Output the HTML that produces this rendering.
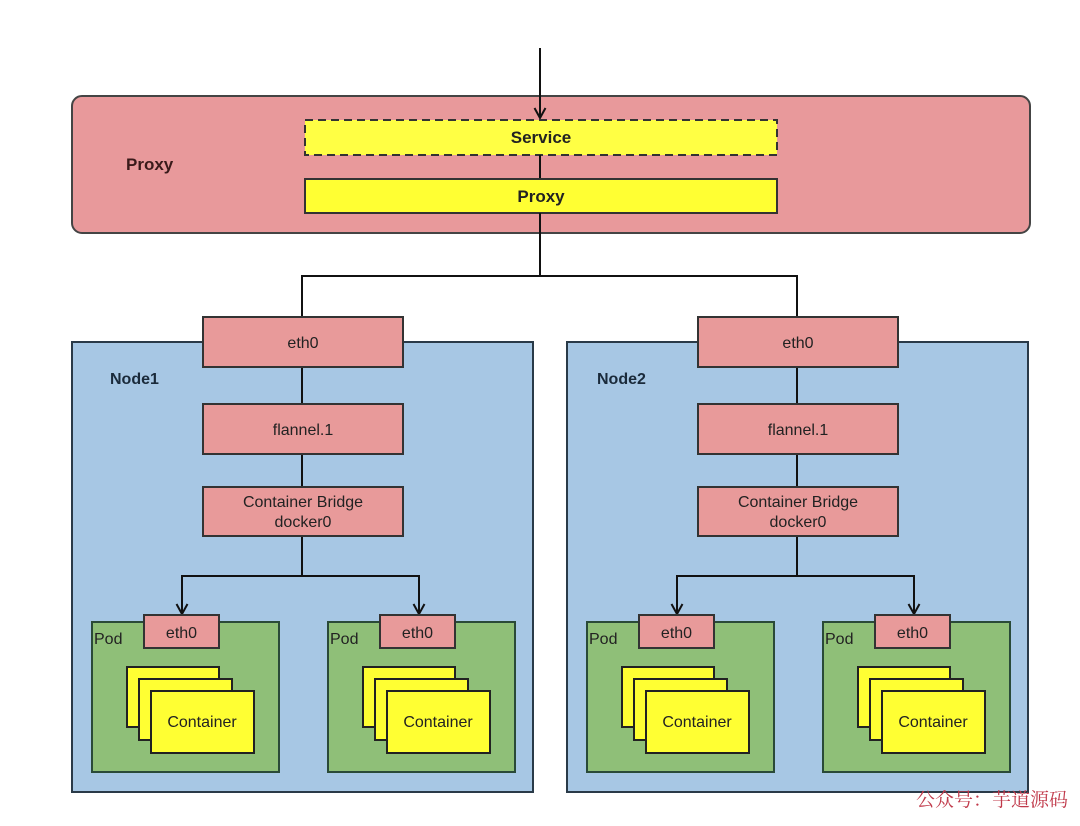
<!DOCTYPE html>
<html><head><meta charset="utf-8"><style>
body{margin:0;background:#fff;}
</style></head><body>
<svg width="1080" height="821" xmlns="http://www.w3.org/2000/svg" font-family="Liberation Sans, sans-serif">
<defs>
<marker id="ah" markerWidth="14" markerHeight="14" refX="12" refY="7" orient="auto" markerUnits="userSpaceOnUse"><path d="M2,1.5 L12,7 L2,12.5" fill="none" stroke="#111" stroke-width="2"/></marker>
<g id="node">
<rect x="72" y="342" width="461" height="450" fill="#a7c7e4" stroke="#2a3a48" stroke-width="2"/>
<text x="110" y="384" font-size="16" font-weight="bold" fill="#1a2a3a">Node1</text>
<line x1="302" y1="367" x2="302" y2="576" stroke="#111" stroke-width="2"/>
<polyline points="182,610 182,576 419,576 419,610" fill="none" stroke="#111" stroke-width="2"/>
<line x1="182" y1="598" x2="182" y2="614" stroke="#111" stroke-width="2" marker-end="url(#ah)"/>
<line x1="419" y1="598" x2="419" y2="614" stroke="#111" stroke-width="2" marker-end="url(#ah)"/>
<rect x="203" y="317" width="200" height="50" fill="#e89a9a" stroke="#333" stroke-width="2"/>
<text x="303" y="348" font-size="16" text-anchor="middle" fill="#222">eth0</text>
<rect x="203" y="404" width="200" height="50" fill="#e89a9a" stroke="#333" stroke-width="2"/>
<text x="303" y="435" font-size="16" text-anchor="middle" fill="#222">flannel.1</text>
<rect x="203" y="487" width="200" height="49" fill="#e89a9a" stroke="#333" stroke-width="2"/>
<text x="303" y="507" font-size="16" text-anchor="middle" fill="#222">Container Bridge</text>
<text x="303" y="527" font-size="16" text-anchor="middle" fill="#222">docker0</text>
<g id="pod">
<rect x="92" y="622" width="187" height="150" fill="#8fbf78" stroke="#2a4a38" stroke-width="2"/>
<text x="94" y="644" font-size="16" fill="#222">Pod</text>
<rect x="144" y="615" width="75" height="33" fill="#e89a9a" stroke="#333" stroke-width="2"/>
<text x="181.5" y="638" font-size="16" text-anchor="middle" fill="#222">eth0</text>
<rect x="127" y="667" width="92" height="60" fill="#ffff33" stroke="#222" stroke-width="2"/>
<rect x="139" y="679" width="93" height="61" fill="#ffff33" stroke="#222" stroke-width="2"/>
<rect x="151" y="691" width="103" height="62" fill="#ffff33" stroke="#222" stroke-width="2"/>
<text x="202" y="727" font-size="16" text-anchor="middle" fill="#222">Container</text>
</g>
<use href="#pod" x="236"/>
</g>
</defs>
<rect x="72" y="96" width="958" height="137" rx="10" fill="#e8999b" stroke="#444" stroke-width="2"/>
<text x="126" y="170" font-size="17" font-weight="bold" fill="#3a1a1a">Proxy</text>
<line x1="540" y1="48" x2="540" y2="118" stroke="#111" stroke-width="2" marker-end="url(#ah)"/>
<rect x="305" y="120" width="472" height="35" fill="#ffff44" stroke="#333" stroke-width="2" stroke-dasharray="8,5"/>
<text x="541" y="143" font-size="17" font-weight="bold" text-anchor="middle" fill="#222">Service</text>
<line x1="540" y1="155" x2="540" y2="178" stroke="#111" stroke-width="2"/>
<rect x="305" y="179" width="472" height="34" fill="#ffff33" stroke="#333" stroke-width="2"/>
<text x="541" y="202" font-size="17" font-weight="bold" text-anchor="middle" fill="#222">Proxy</text>
<polyline points="540,213 540,276" fill="none" stroke="#111" stroke-width="2"/>
<polyline points="302,317 302,276 797,276 797,317" fill="none" stroke="#111" stroke-width="2"/>
<use href="#node"/>
<use href="#node" x="495"/>
<rect x="595" y="364" width="80" height="30" fill="#a7c7e4"/>
<text x="597" y="384" font-size="16" font-weight="bold" fill="#1a2a3a">Node2</text>
<text x="1068" y="806" font-size="19" text-anchor="end" fill="#c0394a" font-family="Liberation Serif, Noto Serif CJK SC, serif">公众号：芋道源码</text>
</svg>
</body></html>
